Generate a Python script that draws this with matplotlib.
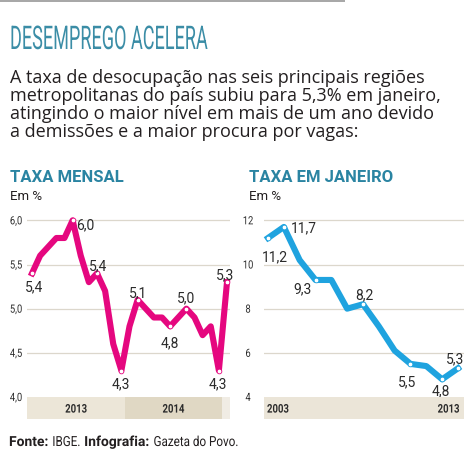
import numpy as np
import matplotlib
matplotlib.use('Agg')
import matplotlib.pyplot as plt
from matplotlib import patheffects
from matplotlib.patches import Rectangle
from matplotlib.transforms import Affine2D

# Taxa mensal de desocupação, jan/2013 a jan/2015 (em %)
taxa_mensal = [5.4, 5.6, 5.7, 5.8, 5.8, 6.0, 5.6, 5.3, 5.4, 5.2, 4.6, 4.3,
               4.8, 5.1, 5.0, 4.9, 4.9, 4.8, 4.9, 5.0, 4.9, 4.7, 4.8, 4.3, 5.3]
rotulos_mensal = [0, 5, 8, 11, 13, 17, 19, 23, 24]      # pontos com valor escrito
anos_mensal = ['2013', '2014']
ticks_mensal = [4.0, 4.5, 5.0, 5.5, 6.0]

# Taxa em janeiro, 2003 a 2015 (em %)
taxa_janeiro = [11.2, 11.7, 10.2, 9.3, 9.3, 8.0, 8.2, 7.2, 6.1, 5.5, 5.4, 4.8, 5.3]
rotulos_janeiro = [0, 1, 3, 6, 9, 11, 12]
anos_janeiro = ['2003', '2013']
ticks_janeiro = [4, 6, 8, 10, 12]

texto = ['A taxa de desocupação nas seis principais regiões',
         'metropolitanas do país subiu para 5,3% em janeiro,',
         'atingindo o maior nível em mais de um ano devido',
         'a demissões e a maior procura por vagas:']

# deslocamento dos rótulos em pixels (direita, baixo)
desloc_mensal = [(2, 12), (13, 3), (1, -9), (-1, 11.5), (0, -9), (0, 14.7), (0, -12), (-1, 11.5), (-2, -9)]
desloc_janeiro = [(7, 17), (20, -1), (-13, 7), (1, -11), (-3, 16), (-1, 10), (-3, -11)]

MAGENTA = '#e5077f'
AZUL = '#1fa3df'
TEAL = '#3b8da6'
TEAL2 = '#2a84a2'
ESCURO = '#231f20'

W, H = 474, 456
def fx(px): return px / W
def fy(py): return 1 - py / H


class Squeeze(patheffects.AbstractPathEffect):
    # comprime o texto na horizontal (fonte condensada)
    def __init__(self, sx, anchor='left'):
        super().__init__()
        self.sx = sx
        self.anchor = anchor

    def draw_path(self, renderer, gc, tpath, affine, rgbFace=None):
        if self.anchor == 'center':
            ext = tpath.get_extents(affine)
            x0 = (ext.x0 + ext.x1) / 2
        else:
            x0 = affine.transform((0, 0))[0]
        aff = affine + Affine2D().translate(-x0, 0).scale(self.sx, 1).translate(x0, 0)
        renderer.draw_path(gc, tpath, aff, rgbFace)


plt.rcParams['font.family'] = ['Roboto', 'DejaVu Sans']
fig = plt.figure(figsize=(W / 100, H / 100), dpi=100)
fig.patch.set_facecolor('white')

# barra cinza no topo
fig.add_artist(Rectangle((0, fy(3)), fx(345), 3 / H, transform=fig.transFigure,
                         color='#a8a8a8', lw=0))

titulo = fig.text(fx(10), fy(50), 'DESEMPREGO ACELERA', fontsize=23.5,
                  fontweight='normal', color=TEAL, va='baseline')
linhas = [fig.text(fx(10), fy(b), t, fontsize=12.6, color=ESCURO, va='baseline',
                   family=['Open Sans', 'DejaVu Sans'])
          for t, b in zip(texto, [83, 101, 119, 137])]

fig.text(fx(10), fy(182), 'TAXA MENSAL', fontsize=12, fontweight='bold', color=TEAL2, va='baseline')
fig.text(fx(249), fy(182), 'TAXA EM JANEIRO', fontsize=12, fontweight='bold', color=TEAL2, va='baseline')
fig.text(fx(10), fy(200), 'Em %', fontsize=9.5, color=ESCURO, va='baseline')
fig.text(fx(249), fy(200), 'Em %', fontsize=9.5, color=ESCURO, va='baseline')


def grafico(left, width, valores, rotulos, desloc, cor, ticks, ylim, xlim, pad, fmt):
    ax = fig.add_axes([fx(left), fy(398), width / W, 185.5 / H])
    x = np.arange(len(valores))
    ax.set_xlim(xlim)
    ax.set_ylim(ylim)
    for t in ticks[1:]:
        ax.axhline(t, color='#dcd7cc', lw=0.9, zorder=1)
    ax.plot(x, valores, color=cor, lw=4.4, solid_joinstyle='round',
            clip_on=False, zorder=3)
    v = np.array(valores)
    ax.plot(x[rotulos], v[rotulos], 'o', ms=3.4, mfc='white', mec=cor, mew=0.6,
            clip_on=False, zorder=4)
    for i, (dx, dy) in zip(rotulos, desloc):
        ax.annotate(f'{valores[i]:.1f}'.replace('.', ','), (x[i], valores[i]),
                    xytext=(dx * 0.72, -(dy + 5) * 0.72), textcoords='offset points',
                    ha='center', va='baseline', fontsize=10, color='#2b2b2b', zorder=5)
    ax.set_yticks(ticks)
    ax.set_yticklabels([fmt(t) for t in ticks])
    ax.set_xticks([])
    ax.tick_params(axis='y', length=0, pad=pad, labelsize=8.2, labelcolor='#2b2b2b')
    for lbl in ax.get_yticklabels():
        lbl.set_ha('center')
        lbl.set_path_effects([Squeeze(0.82, 'center')])
    for s in ax.spines.values():
        s.set_visible(False)
    ax.patch.set_alpha(0)

    faixa = fig.add_axes([fx(left), fy(420), width / W, 22 / H])
    faixa.set_xlim(xlim)
    faixa.set_ylim(0, 1)
    faixa.axis('off')
    return ax, faixa


# gráfico da taxa mensal
ax1, faixa1 = grafico(27, 203, taxa_mensal, rotulos_mensal, desloc_mensal, MAGENTA,
                      ticks_mensal, (4.0, 6.1), (-0.615, 24.37), 7.9,
                      lambda t: f'{t:.1f}'.replace('.', ','))
limites = [-0.615, 11.45, 23.35]
faixa1.axvspan(limites[0], limites[1], color='#ece6d8', lw=0)
faixa1.axvspan(limites[1], limites[2], color='#e0d8c4', lw=0)
faixa1.axvspan(limites[2], 24.37, color='#f0ece4', lw=0)
for ano, a, b in zip(anos_mensal, limites[:-1], limites[1:]):
    faixa1.text((a + b) / 2, 0.45, ano, ha='center', va='center', fontsize=8.6,
                fontweight='bold', color='#2b2b2b',
                path_effects=[Squeeze(0.8, 'center')])

# gráfico da taxa em janeiro
ax2, faixa2 = grafico(264, 200, taxa_janeiro, rotulos_janeiro, desloc_janeiro, AZUL,
                      ticks_janeiro, (4, 12.4), (-0.253, 12.38), 11.5,
                      lambda t: f'{t:d}')
faixa2.axvspan(-0.253, 12.38, color='#ebe5d8', lw=0)
faixa2.text(0.015, 0.45, anos_janeiro[0], transform=faixa2.transAxes, ha='left',
            va='center', fontsize=8.6, fontweight='bold', color='#2b2b2b',
            path_effects=[Squeeze(0.8)])
faixa2.text(0.99, 0.45, anos_janeiro[1], transform=faixa2.transAxes, ha='right',
            va='center', fontsize=8.6, fontweight='bold', color='#2b2b2b',
            path_effects=[Squeeze(0.8, 'center')])

# ajustes de largura depois de um primeiro desenho
fig.canvas.draw()
r = fig.canvas.get_renderer()
titulo.set_path_effects([Squeeze(198 / titulo.get_window_extent(r).width)])
escala = 452 / linhas[0].get_window_extent(r).width
escala = min(escala, 1.03)
for t in linhas:
    t.set_fontsize(t.get_fontsize() * escala)

# rodapé
partes = [('Fonte:', True), ('IBGE.', False), ('Infografia:', True), ('Gazeta do Povo.', False)]
x = 9
for s, negrito in partes:
    sx = 1.0 if negrito else 0.84
    t = fig.text(fx(x), fy(447), s, fontsize=10, color=ESCURO, va='baseline',
                 fontweight='bold' if negrito else 'normal',
                 path_effects=[Squeeze(sx)])
    x += t.get_window_extent(r).width * sx + 3.8

fig.savefig('out.png', dpi=100)
